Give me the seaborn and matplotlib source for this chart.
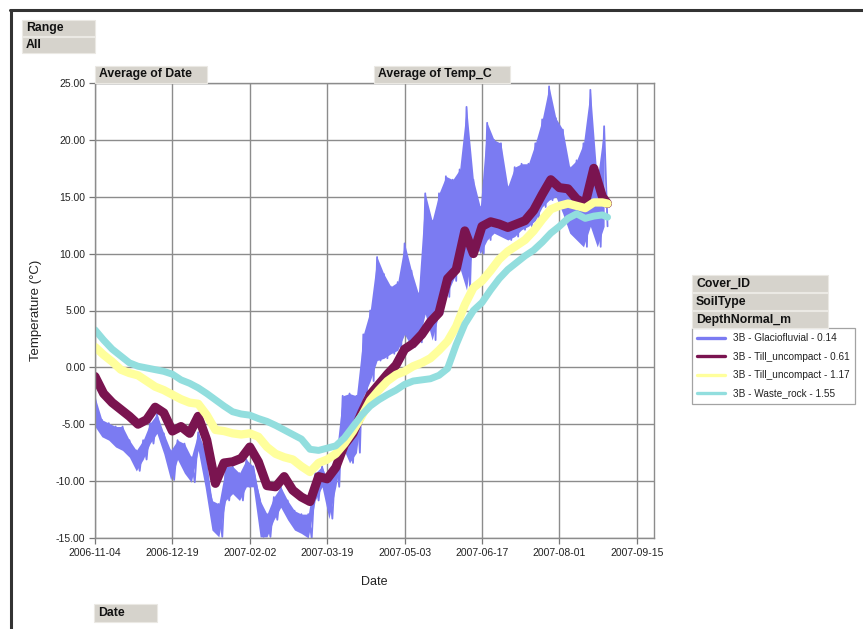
import numpy as np
import pandas as pd
import matplotlib
matplotlib.use('Agg')
import matplotlib.pyplot as plt
import matplotlib.dates as mdates
import seaborn as sns
from matplotlib.patches import Rectangle
from matplotlib.lines import Line2D

sns.set_theme(style='white')
plt.rcParams['font.family'] = ['Liberation Sans', 'DejaVu Sans']
plt.rcParams['axes.unicode_minus'] = False

# ---- data (day 0 = 2006-11-04) ----
start = pd.Timestamp('2006-11-04')

series_names = ['3B - Glaciofluvial - 0.14', '3B - Till_uncompact - 0.61',
                '3B - Till_uncompact - 1.17', '3B - Waste_rock - 1.55']
series_colors = ['#7b7bf2', '#7a1450', '#ffff9c', '#92dede']

# smoother (deeper) sensors, every 5 days + last reading
sample_day = list(range(0, 296, 5)) + [298]
temp_061 = [-0.8, -2.3, -3.1, -3.7, -4.3, -5.0, -4.6, -3.5, -4.0, -5.6,
            -5.2, -5.8, -4.3, -6.4, -10.2, -8.4, -8.3, -8.0, -7.0, -8.3,
            -10.4, -10.5, -9.6, -10.8, -11.4, -11.8, -9.6, -9.8, -8.8, -6.8,
            -5.8, -4.0, -2.4, -1.5, -0.6, 0.2, 1.6, 2.1, 2.9, 4.0,
            4.8, 7.8, 8.6, 12.0, 10.0, 12.4, 12.8, 12.6, 12.3, 12.6,
            12.9, 13.8, 15.2, 16.5, 15.8, 15.7, 14.8, 14.4, 17.5, 15.0, 14.4]
temp_117 = [1.8, 1.1, 0.5, -0.2, -0.5, -0.7, -1.2, -1.7, -2.0, -2.4,
            -2.8, -3.1, -3.2, -4.2, -5.5, -5.6, -5.8, -5.9, -5.8, -6.1,
            -7.0, -7.6, -7.9, -8.1, -8.7, -9.2, -8.4, -8.1, -7.6, -6.7,
            -5.6, -4.3, -2.9, -2.0, -1.2, -0.65, -0.35, 0.1, 0.4, 0.8,
            1.5, 2.3, 3.6, 5.5, 7.0, 7.6, 8.5, 9.5, 10.2, 10.7,
            11.2, 12.0, 13.0, 13.9, 14.2, 14.4, 14.2, 14.0, 14.5, 14.5, 14.4]
temp_155 = [3.3, 2.4, 1.6, 1.0, 0.4, 0.1, -0.05, -0.2, -0.35, -0.6,
            -1.1, -1.4, -1.8, -2.3, -2.85, -3.4, -3.9, -4.1, -4.2, -4.5,
            -4.75, -5.1, -5.5, -5.9, -6.3, -7.2, -7.3, -7.1, -6.9, -6.2,
            -5.2, -4.2, -3.4, -2.85, -2.4, -2.0, -1.5, -1.2, -1.1, -1.0,
            -0.7, -0.1, 2.0, 3.8, 5.0, 5.7, 6.8, 7.8, 8.6, 9.2,
            9.8, 10.3, 11.0, 11.8, 12.4, 13.1, 13.5, 13.1, 13.3, 13.4, 13.2]

# shallow sensor swings a lot: daily high / low, every 4 days
glacio_day = list(range(0, 297, 4))
glacio_hi = [-2.6, -4.6, -4.9, -5.2, -5.2, -6.4, -7.3, -6.4, -4.9, -4.1,
             -5.8, -7.3, -6.4, -6.7, -7.9, -5.7, -7.3, -11.7, -12.0, -8.7,
             -8.7, -9.3, -8.1, -8.7, -11.7, -12.9, -11.4, -10.5, -11.7, -12.6,
             -12.9, -12.9, -9.3, -8.7, -10.2, -7.9, -2.5, -2.3, -2.5, 2.9,
             5.0, 9.7, 8.2, 7.1, 7.5, 10.9, 8.5, 6.5, 15.3, 12.9,
             15.3, 16.8, 16.5, 17.4, 22.9, 16.5, 14.1, 21.5, 20.0, 19.7,
             15.9, 17.6, 17.9, 17.9, 19.7, 21.8, 24.7, 21.9, 20.9, 17.6,
             18.2, 19.7, 24.4, 16.5, 21.2]
glacio_lo = [-5.2, -6.1, -6.4, -7.0, -7.3, -7.9, -9.1, -8.1, -6.7, -5.8,
             -7.6, -9.9, -8.1, -9.3, -10.1, -7.3, -10.5, -14.3, -14.9, -11.7,
             -11.1, -11.7, -10.5, -10.5, -14.9, -14.9, -13.4, -12.3, -13.4, -14.3,
             -14.6, -15.0, -11.7, -10.5, -13.3, -10.5, -7.0, -8.4, -7.5, -2.6,
             -1.2, 0.6, 0.8, 1.2, 1.5, 2.9, 1.8, 2.2, 4.7, 2.4,
             4.7, 6.2, 7.6, 8.8, 6.8, 11.2, 10.0, 11.2, 11.8, 11.5,
             11.2, 11.5, 12.1, 12.4, 12.9, 14.1, 14.7, 15.0, 13.5, 11.8,
             11.2, 10.6, 12.4, 10.6, 12.4]

tick_dates = pd.date_range('2006-11-04', '2007-09-15', freq='45D')

# ---- long table for seaborn ----
rows = []
for d, hi, lo in zip(glacio_day, glacio_hi, glacio_lo):
    rows.append((series_names[0], start + pd.Timedelta(days=d), hi))
    rows.append((series_names[0], start + pd.Timedelta(days=d + 2), lo))
for name, vals in zip(series_names[1:], [temp_061, temp_117, temp_155]):
    for d, v in zip(sample_day, vals):
        rows.append((name, start + pd.Timedelta(days=d), v))
df = pd.DataFrame(rows, columns=['Series', 'Date', 'Temp_C'])

W, H = 863, 629
fig = plt.figure(figsize=(W / 100, H / 100), dpi=100)
ax = fig.add_axes([95 / W, 1 - 538 / H, 559 / W, 455 / H])

# envelope of the noisy shallow sensor
g_dates = [start + pd.Timedelta(days=d) for d in glacio_day]
ax.fill_between(g_dates, glacio_lo, glacio_hi, color=series_colors[0], lw=0, zorder=1.5)

widths = [1.3, 6.5, 6.0, 5.0]
for name, col, lw in zip(series_names, series_colors, widths):
    sns.lineplot(data=df[df['Series'] == name], x='Date', y='Temp_C', color=col,
                 lw=lw, estimator=None, ax=ax, legend=False, zorder=2)

ax.set_xlim(start, pd.Timestamp('2007-09-25'))
ax.set_ylim(-15, 25)
ax.set_xticks(tick_dates)
ax.xaxis.set_major_formatter(mdates.DateFormatter('%Y-%m-%d'))
ax.set_yticks(np.arange(-15, 26, 5))
ax.set_yticklabels(['%.2f' % v for v in np.arange(-15, 26, 5)])

ax.grid(True, color='#8c8c8c', lw=1.0)
ax.set_axisbelow(True)
for s in ax.spines.values():
    s.set_color('#8c8c8c')
    s.set_linewidth(1.0)
ax.tick_params(axis='both', bottom=True, left=True, direction='out', length=4,
               width=0.9, color='#777777', labelsize=7.5, labelcolor='#222222', pad=3)

ax.set_xlabel('Date', fontsize=9, color='#222222')
ax.set_ylabel('Temperature (°C)', fontsize=9.5, color='#222222')
ax.xaxis.set_label_coords(0.5, -0.083)
ax.yaxis.set_label_coords(-0.094, 0.5)

# legend
handles = [Line2D([], [], color=c, lw=2.4) for c in series_colors]
leg = ax.legend(handles, series_names, loc='upper left',
                bbox_to_anchor=(692 / W, 1 - 328 / H), bbox_transform=fig.transFigure,
                fontsize=7.2, frameon=True, fancybox=False, edgecolor='#8c8c8c',
                handlelength=2.8, handletextpad=0.8, labelspacing=0.85,
                borderpad=0.5, borderaxespad=0)
leg.get_frame().set_linewidth(0.9)
for t in leg.get_texts():
    t.set_color('#222222')


# grey pivot field buttons
def button(x0, y0, x1, y1, text):
    fig.patches.append(Rectangle((x0 / W, 1 - y1 / H), (x1 - x0) / W, (y1 - y0) / H,
                                 transform=fig.transFigure, facecolor='#d6d3cc',
                                 edgecolor='#ebe9e4', lw=0.8, zorder=3))
    fig.text((x0 + 4) / W, 1 - (y0 + y1) / 2 / H, text, fontsize=8.8,
             fontweight='bold', va='center', ha='left', color='#111111', zorder=4)


button(22, 20, 95, 36, 'Range')
button(22, 37, 95, 53, 'All')
button(95, 66, 207, 83, 'Average of Date')
button(374, 66, 510, 83, 'Average of Temp_C')
button(692, 275, 828, 292, 'Cover_ID')
button(692, 293, 828, 310, 'SoilType')
button(692, 311, 828, 328, 'DepthNormal_m')
button(94, 604, 157, 622, 'Date')

# outer frame (top and left edge)
fig.lines.append(Line2D([10 / W, 1], [1 - 10 / H, 1 - 10 / H], transform=fig.transFigure,
                        color='#333333', lw=2.2))
fig.lines.append(Line2D([11 / W, 11 / W], [0, 1 - 10 / H], transform=fig.transFigure,
                        color='#333333', lw=2.2))

fig.savefig('out.png', dpi=100)
